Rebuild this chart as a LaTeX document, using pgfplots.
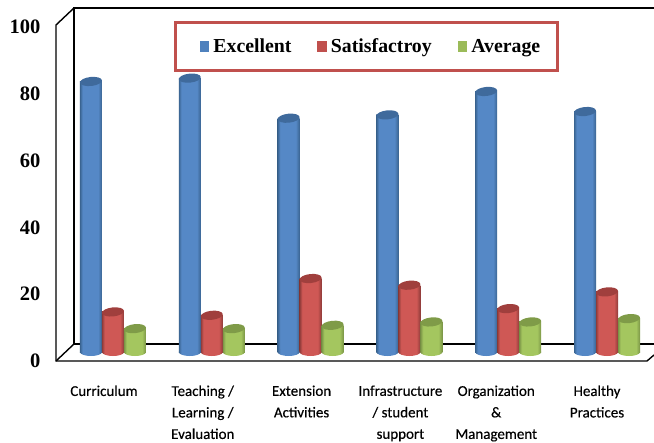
\documentclass[border=0pt]{standalone}
\usepackage{pgfplots}
\usepackage{fontspec}
\pgfplotsset{compat=1.18}
\setmainfont{Liberation Serif}
\newfontfamily\catfont[FakeBold=0.35]{Carlito}
\definecolor{bluemid}{HTML}{5588C6}\definecolor{blueedge}{HTML}{3A6491}\definecolor{bluetop}{HTML}{3F6A9C}\definecolor{bluekey}{HTML}{4F81BD}
\definecolor{redmid}{HTML}{CF5855}\definecolor{rededge}{HTML}{8E3B39}\definecolor{redtop}{HTML}{A03F3D}\definecolor{redkey}{HTML}{C0504D}
\definecolor{greenmid}{HTML}{A4C65F}\definecolor{greenedge}{HTML}{7A9446}\definecolor{greentop}{HTML}{7F9B48}\definecolor{greenkey}{HTML}{9BBB59}
\pgfdeclarehorizontalshading{blueshade}{100bp}{color(0bp)=(blueedge); color(25bp)=(blueedge); color(31bp)=(bluemid); color(66bp)=(bluemid); color(75bp)=(blueedge); color(100bp)=(blueedge)}
\pgfdeclarehorizontalshading{redshade}{100bp}{color(0bp)=(rededge); color(25bp)=(rededge); color(31bp)=(redmid); color(66bp)=(redmid); color(75bp)=(rededge); color(100bp)=(rededge)}
\pgfdeclarehorizontalshading{greenshade}{100bp}{color(0bp)=(greenedge); color(25bp)=(greenedge); color(31bp)=(greenmid); color(66bp)=(greenmid); color(75bp)=(greenedge); color(100bp)=(greenedge)}
\newcommand{\defmarks}[2]{%
  \pgfdeclareplotmark{#1base}{%
    \pgfpathellipse{\pgfpoint{#2}{0pt}}{\pgfpoint{11pt}{0pt}}{\pgfpoint{0pt}{4pt}}%
    \pgfshadepath{#1shade}{0}\pgfusepath{discard}}%
  \pgfdeclareplotmark{#1top}{%
    \pgfpathellipse{\pgfpoint{#2}{0pt}}{\pgfpoint{10.95pt}{1.15pt}}{\pgfpoint{-0.47pt}{4.48pt}}%
    \pgfsetfillcolor{#1top}\pgfusepath{fill}}%
}
\defmarks{blue}{-22pt}\defmarks{red}{0pt}\defmarks{green}{22pt}
% one cylinder: colour, bar shift, category, value
\newcommand{\cyl}[4]{%
  \addplot[forget plot,only marks,mark=#1base] coordinates {(#3,0)};
  \addplot[forget plot,ybar,bar width=22pt,bar shift=#2,draw=none,shade,shading=#1shade] coordinates {(#3,#4)};
  \addplot[forget plot,only marks,mark=#1top] coordinates {(#3,#4)};
}
\newcommand{\group}[4]{\cyl{blue}{-22pt}{#1}{#2}\cyl{red}{0pt}{#1}{#3}\cyl{green}{22pt}{#1}{#4}}
\pgfplotsset{
  frameaxis/.style={
    at={(56pt,82pt)},anchor=south west,scale only axis,width=598pt,height=334pt,
    xmin=-0.5769,xmax=5.4757,clip=false}
}
\begin{document}
\begin{tikzpicture}[x=1pt,y=1pt]
\path[use as bounding box] (0,0) rectangle (654,443);
\begin{scope}[y=-1pt,yshift=443pt,line width=1.4pt,black]
\draw (654,8) -- (74,8) -- (74,344) -- (654,344);
\draw (74,8) -- (56,25) -- (56,361) -- (647,361) -- (654,355);
\draw (56,361) -- (74,344);
\end{scope}
\begin{axis}[frameaxis,
  ymin=0,ymax=100,ytick={0,20,40,60,80,100},
  xtick={0,1,2,3,3.97,4.99},
  xticklabels={Curriculum,{Teaching /\\Learning /\\Evaluation},{Extension\\Activities},{Infrastructure\\/ student\\support},{Organization\\\&\\Management},{Healthy\\Practices}},
  axis line style={draw=none},major tick length=0pt,
  /pgf/number format/assume math mode=true,
  yticklabel style={font=\bfseries\fontsize{20.5}{22}\selectfont,anchor=east,xshift=-12pt},
  xticklabel style={font=\catfont\fontsize{15}{21.5}\selectfont,align=center,anchor=north,yshift=-21pt,xshift=-9pt},
]
\end{axis}
\begin{axis}[frameaxis,
  ymin=-2.69,ymax=97.31,axis lines=none,
  legend columns=3,
  legend style={at={(0.5193,0.9416)},anchor=center,draw=redkey,line width=2.8pt,fill=white,
    inner xsep=15pt,inner ysep=14pt,
    font=\bfseries\fontsize{19.8}{22}\selectfont,
    /tikz/every even column/.style={column sep=15pt},
    /tikz/every odd column/.style={column sep=2pt}},
  legend image code/.code={\path[draw=none,fill=none] (-9pt,0pt) -- (0pt,0pt);\fill[#1] (0pt,-5.5pt) rectangle (9.5pt,5.5pt);},
]
\group{0}{81}{12}{7}
\group{1}{82}{11}{7}
\group{2}{70}{22}{8}
\group{3}{71}{20}{9}
\group{4}{78}{13}{9}
\group{5}{72}{18}{10}
\addlegendimage{fill=bluekey,draw=none}\addlegendentry{Excellent}
\addlegendimage{fill=redkey,draw=none}\addlegendentry{Satisfactroy}
\addlegendimage{fill=greenkey,draw=none}\addlegendentry{Average}
\end{axis}
\end{tikzpicture}
\end{document}
